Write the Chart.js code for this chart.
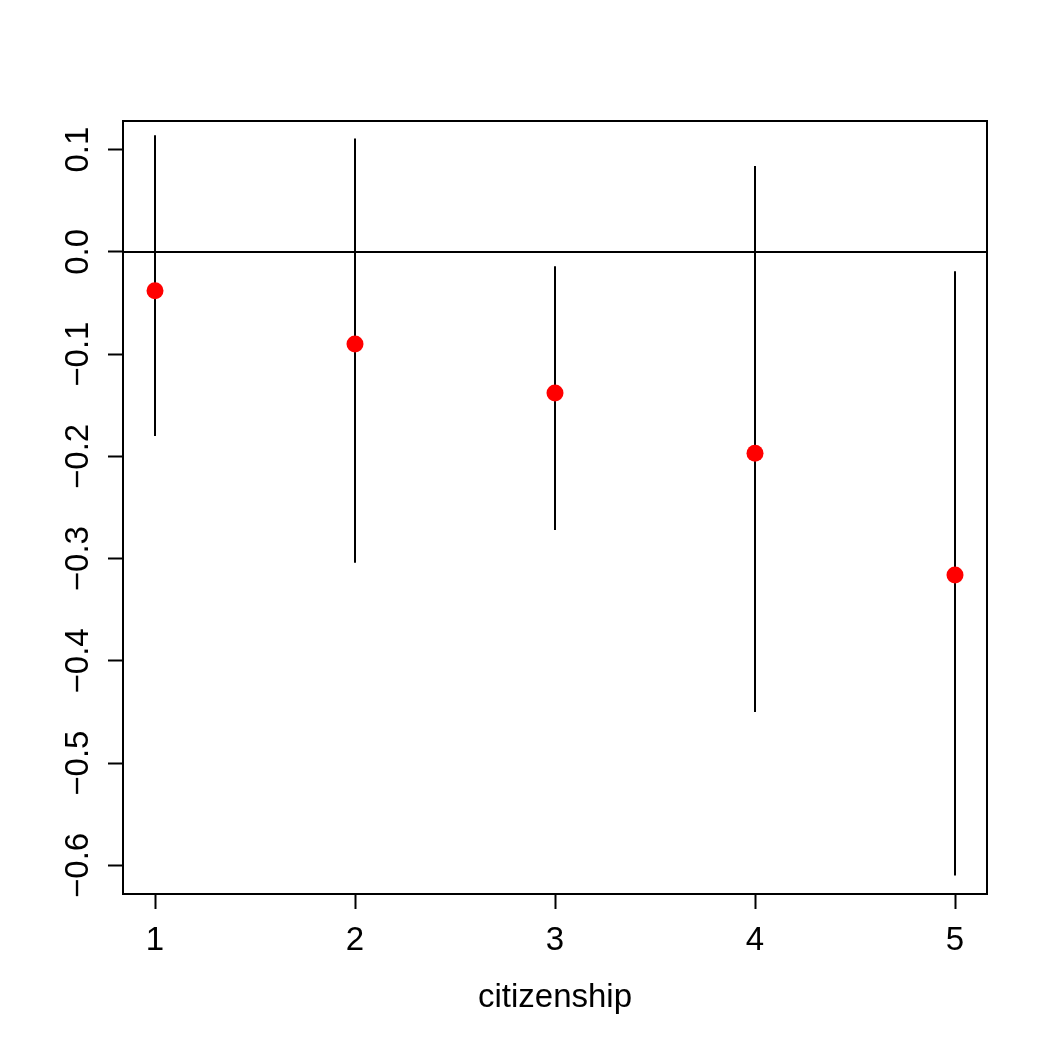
<!DOCTYPE html>
<html>
<head>
<meta charset="utf-8">
<script src="https://cdn.jsdelivr.net/npm/chart.js@4"></script>
<style>html,body{margin:0;padding:0;background:#fff}</style>
</head>
<body>
<canvas id="c" width="1048" height="1048"></canvas>
<script>
"use strict";
// values
const categories = [1, 2, 3, 4, 5];
const estimates = [-0.038, -0.090, -0.138, -0.197, -0.316];
const lower = [-0.180, -0.304, -0.272, -0.450, -0.610];
const upper = [0.114, 0.111, -0.014, 0.084, -0.019];
const xTicks = [1, 2, 3, 4, 5];
const yTicks = [-0.6, -0.5, -0.4, -0.3, -0.2, -0.1, 0, 0.1];
const X_RANGE = [0.84, 5.16];
const Y_RANGE = [-0.628, 0.128];
const xTitle = "citizenship";

const FONT = { family: "'Liberation Sans', Arial, sans-serif", size: 33, lineHeight: 1.2 };
const INK = "#000";

const fmtY = (v) => (Math.abs(v) < 1e-9 ? "0.0" : v.toFixed(1)).replace("-", "\u2212");

// R-style box around the plot region
const frame = {
  id: "frame",
  afterDatasetsDraw(chart) {
    const { ctx, chartArea: a } = chart;
    ctx.save();
    ctx.strokeStyle = INK;
    ctx.lineWidth = 2;
    ctx.strokeRect(a.left, a.top, a.right - a.left, a.bottom - a.top);
    ctx.restore();
  },
};

const whiskers = categories.map((c, i) => ({
  type: "scatter", showLine: true, order: 3,
  data: [{ x: c, y: lower[i] }, { x: c, y: upper[i] }],
  borderColor: INK, borderWidth: 2, pointRadius: 0,
}));

const zeroLine = {
  type: "scatter", showLine: true, order: 2,
  data: [{ x: X_RANGE[0], y: 0 }, { x: X_RANGE[1], y: 0 }],
  borderColor: INK, borderWidth: 2, pointRadius: 0,
};

const points = {
  type: "scatter", order: 1,
  data: categories.map((c, i) => ({ x: c, y: estimates[i] })),
  backgroundColor: "#ff0000", borderColor: "#ff0000", borderWidth: 0, pointRadius: 8.5,
};

new Chart(document.getElementById("c"), {
  type: "scatter",
  data: { datasets: [...whiskers, zeroLine, points] },
  plugins: [frame],
  options: {
    responsive: false,
    animation: false,
    layout: { padding: { left: 0, top: 121, right: 61, bottom: 0 } },
    plugins: { legend: { display: false }, tooltip: { enabled: false } },
    scales: {
      x: {
        type: "linear", min: X_RANGE[0], max: X_RANGE[1],
        afterBuildTicks: (s) => { s.ticks = xTicks.map((v) => ({ value: v })); },
        afterFit: (s) => { s.height = 154; },
        grid: { drawOnChartArea: false, drawTicks: true, tickLength: 15, tickWidth: 2, tickColor: INK },
        border: { display: false },
        ticks: { color: INK, font: FONT, padding: 12, maxRotation: 0, autoSkip: false,
          callback: (v) => String(v) },
        title: { display: true, text: xTitle, color: INK, font: FONT, padding: { top: 0, bottom: 30 } },
      },
      y: {
        type: "linear", min: Y_RANGE[0], max: Y_RANGE[1],
        afterBuildTicks: (s) => { s.ticks = yTicks.map((v) => ({ value: v })); },
        afterFit: (s) => { s.width = 123; },
        grid: { drawOnChartArea: false, drawTicks: true, tickLength: 15, tickWidth: 2, tickColor: INK },
        border: { display: false },
        ticks: { color: INK, font: FONT, padding: -3, minRotation: 90, maxRotation: 90,
          crossAlign: "center", autoSkip: false, callback: fmtY },
      },
    },
  },
});
</script>
</body>
</html>
